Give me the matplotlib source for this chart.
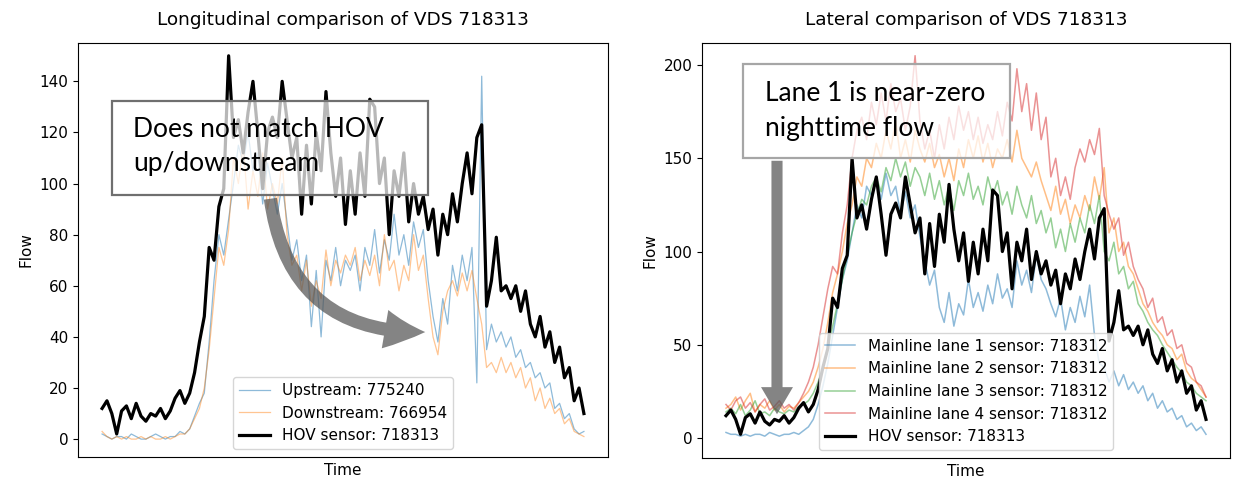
import numpy as np
import matplotlib.pyplot as plt
from matplotlib.patches import Rectangle, FancyArrowPatch

# =============================================================================
# Data (flow per time step)
# =============================================================================

hov = [12, 15, 10, 2, 11, 13, 8, 14, 9, 7, 10, 9, 12, 8, 11,
       16, 19, 14, 18, 26, 38, 48, 75, 70, 91, 98, 150, 118, 125, 112,
       128, 140, 120, 98, 120, 126, 118, 140, 125, 110, 118, 88, 115, 92, 120,
       105, 136, 112, 95, 110, 84, 105, 88, 112, 95, 133, 130, 100, 110, 80,
       105, 95, 112, 85, 100, 88, 95, 82, 90, 72, 88, 80, 96, 85, 100,
       112, 96, 118, 123, 52, 62, 79, 58, 60, 55, 60, 50, 58, 45, 40,
       48, 36, 42, 30, 36, 24, 28, 15, 20, 10]

upstream = [2, 1, 0, 1, 1, 0, 2, 1, 0, 0, 1, 2, 1, 0, 1,
            1, 3, 2, 4, 9, 14, 18, 38, 62, 80, 72, 86, 100, 115, 108,
            120, 105, 112, 92, 108, 98, 88, 100, 85, 70, 78, 62, 72, 44, 66,
            40, 70, 62, 75, 60, 70, 66, 72, 58, 75, 68, 82, 65, 78, 70,
            88, 72, 80, 68, 85, 75, 82, 62, 48, 38, 55, 45, 68, 58, 72,
            62, 75, 22, 142, 35, 45, 38, 42, 36, 40, 32, 35, 28, 30, 24,
            26, 20, 22, 12, 14, 8, 10, 4, 2, 3]

downstream = [3, 1, 0, 1, 0, 1, 0, 0, 1, 0, 1, 0, 0, 1, 0,
              1, 2, 2, 4, 8, 12, 20, 35, 55, 75, 68, 82, 110, 100, 115,
              90, 105, 95, 112, 90, 100, 92, 110, 80, 68, 72, 58, 70, 52, 62,
              55, 74, 60, 70, 65, 72, 68, 75, 62, 70, 64, 72, 60, 80, 66,
              70, 58, 68, 62, 80, 66, 72, 55, 40, 33, 50, 58, 62, 56, 65,
              58, 66, 55, 45, 28, 30, 26, 32, 26, 30, 24, 28, 20, 24, 15,
              20, 12, 16, 10, 12, 6, 8, 3, 2, 1]

lane1 = [3, 2, 2, 1, 2, 1, 2, 2, 1, 3, 2, 1, 2, 2, 3,
         2, 4, 6, 10, 18, 28, 40, 55, 70, 85, 95, 110, 125, 118, 135,
         130, 140, 128, 142, 130, 135, 120, 132, 118, 125, 108, 95, 82, 90, 70,
         62, 78, 60, 72, 66, 85, 70, 78, 68, 82, 72, 88, 75, 80, 70,
         95, 82, 90, 78, 98, 85, 80, 72, 65, 75, 58, 70, 62, 76, 65,
         82, 55, 40, 38, 30, 36, 28, 34, 26, 30, 24, 28, 20, 24, 16,
         20, 14, 16, 10, 12, 6, 8, 4, 6, 2]

lane2 = [16, 18, 22, 15, 20, 24, 14, 18, 16, 20, 15, 18, 14, 17, 16,
         19, 22, 25, 30, 38, 48, 62, 78, 88, 100, 115, 125, 140, 135, 150,
         145, 158, 150, 165, 155, 170, 150, 160, 148, 165, 155, 148, 158, 145, 152,
         140, 150, 138, 155, 145, 160, 150, 162, 148, 158, 145, 155, 150, 160, 148,
         165, 150, 145, 140, 148, 138, 130, 122, 135, 120, 128, 115, 125, 118, 130,
         122, 140, 128, 145, 110, 118, 100, 105, 92, 88, 80, 72, 68, 62, 58,
         55, 50, 48, 42, 45, 36, 32, 30, 26, 22]

lane3 = [14, 16, 13, 18, 12, 15, 20, 13, 14, 12, 16, 14, 13, 15, 14,
         17, 18, 20, 24, 30, 38, 48, 60, 72, 85, 98, 110, 120, 128, 125,
         135, 140, 132, 145, 138, 150, 140, 148, 135, 145, 140, 130, 142, 128, 138,
         125, 135, 122, 138, 130, 142, 128, 135, 125, 140, 130, 138, 125, 132, 120,
         135, 125, 118, 130, 115, 122, 110, 118, 102, 112, 100, 115, 105, 118, 110,
         125, 115, 130, 100, 95, 105, 88, 92, 80, 84, 72, 68, 62, 58, 55,
         50, 46, 42, 38, 35, 30, 28, 24, 22, 20]

lane4 = [18, 15, 20, 22, 16, 19, 14, 18, 21, 15, 17, 20, 16, 18, 15,
         19, 24, 30, 38, 50, 65, 80, 92, 88, 110, 125, 150, 165, 172, 160,
         180, 168, 185, 170, 190, 175, 182, 165, 178, 205, 170, 155, 165, 150, 168,
         155, 172, 160, 178, 165, 175, 160, 172, 158, 168, 160, 175, 162, 180, 170,
         198, 175, 190, 165, 185, 160, 172, 140, 150, 130, 140, 128, 145, 155, 148,
         160, 152, 166, 130, 120, 112, 118, 98, 105, 92, 85, 80, 70, 75, 62,
         65, 55, 58, 48, 50, 40, 38, 30, 28, 22]

t = np.arange(len(hov))

# =============================================================================
# Figure: two panels side by side
# =============================================================================

plt.rcParams.update({'font.size': 11})

W, H = 1235, 479
fig = plt.figure(figsize=(W / 100, H / 100), dpi=100)

def fpos(x, y):
    # image pixel (top-left origin) -> figure fraction
    return x / W, 1 - y / H

ax1 = fig.add_axes([78 / W, 22 / H, 530 / W, 414 / H])
ax2 = fig.add_axes([702 / W, 21 / H, 528 / W, 415 / H])

# Longitudinal
ax1.plot(t, upstream, c='#1f77b4', lw=0.9, alpha=0.5, label='Upstream: 775240')
ax1.plot(t, downstream, c='#ff7f0e', lw=0.9, alpha=0.45, label='Downstream: 766954')
ax1.plot(t, hov, c='black', lw=2.3, label='HOV sensor: 718313')
ax1.set_title('Longitudinal comparison of VDS 718313', fontsize=13.3, pad=13)
ax1.set_ylabel('Flow')
ax1.set_xlabel('Time')
ax1.set_xticks([])
ax1.set_yticks(np.arange(0, 141, 20))
ax1.set_ylim(-7, 155)
ax1.legend(loc='lower center')

# Lateral
ax2.plot(t, lane1, c='#1f77b4', lw=1.1, alpha=0.5, label='Mainline lane 1 sensor: 718312')
ax2.plot(t, lane2, c='#ff7f0e', lw=1.1, alpha=0.5, label='Mainline lane 2 sensor: 718312')
ax2.plot(t, lane3, c='#2ca02c', lw=1.1, alpha=0.5, label='Mainline lane 3 sensor: 718312')
ax2.plot(t, lane4, c='#d62728', lw=1.1, alpha=0.5, label='Mainline lane 4 sensor: 718312')
ax2.plot(t, hov, c='black', lw=2.3, label='HOV sensor: 718313')
ax2.set_title('Lateral comparison of VDS 718313', fontsize=13.3, pad=13)
ax2.set_ylabel('Flow')
ax2.set_xlabel('Time')
ax2.set_xticks([])
ax2.set_yticks(np.arange(0, 201, 50))
ax2.set_ylim(-10.7, 211.8)
ax2.legend(loc='lower center')

# =============================================================================
# Call-out boxes and arrows (drawn on top, in figure pixels)
# =============================================================================

def callout(x0, y0, x1, y1, ec):
    (fx0, fy1), (fx1, fy0) = fpos(x0, y0), fpos(x1, y1)
    r = Rectangle((fx0, fy0), fx1 - fx0, fy1 - fy0, transform=fig.transFigure,
                  facecolor='white', alpha=0.72, edgecolor='none', zorder=5)
    fig.add_artist(r)
    e = Rectangle((fx0, fy0), fx1 - fx0, fy1 - fy0, transform=fig.transFigure,
                  facecolor='none', edgecolor=ec, lw=1.6, zorder=6)
    fig.add_artist(e)

callout(112, 101, 428, 195, '#6f6f6f')
fig.text(*fpos(133, 117), 'Does not match HOV\nup/downstream', family='Lato',
         fontsize=19, va='top', ha='left', linespacing=1.45, zorder=7)

callout(743, 64, 1010, 158, '#a6a6a6')
fig.text(*fpos(765, 81), 'Lane 1 is near-zero\nnighttime flow', family='Lato',
         fontsize=19, va='top', ha='left', linespacing=1.5, zorder=7)

a1 = FancyArrowPatch(fpos(270, 196), fpos(428, 332), transform=fig.transFigure,
                     connectionstyle='arc3,rad=0.45',
                     arrowstyle='simple,head_length=29,head_width=28,tail_width=9.5',
                     color='#555555', alpha=0.72, lw=0, zorder=6)
fig.add_artist(a1)

a2 = FancyArrowPatch(fpos(777, 158), fpos(777, 417), transform=fig.transFigure,
                     arrowstyle='simple,head_length=19.5,head_width=23,tail_width=8',
                     color='#555555', alpha=0.72, lw=0, zorder=6)
fig.add_artist(a2)

plt.savefig('out.png', dpi=100)
